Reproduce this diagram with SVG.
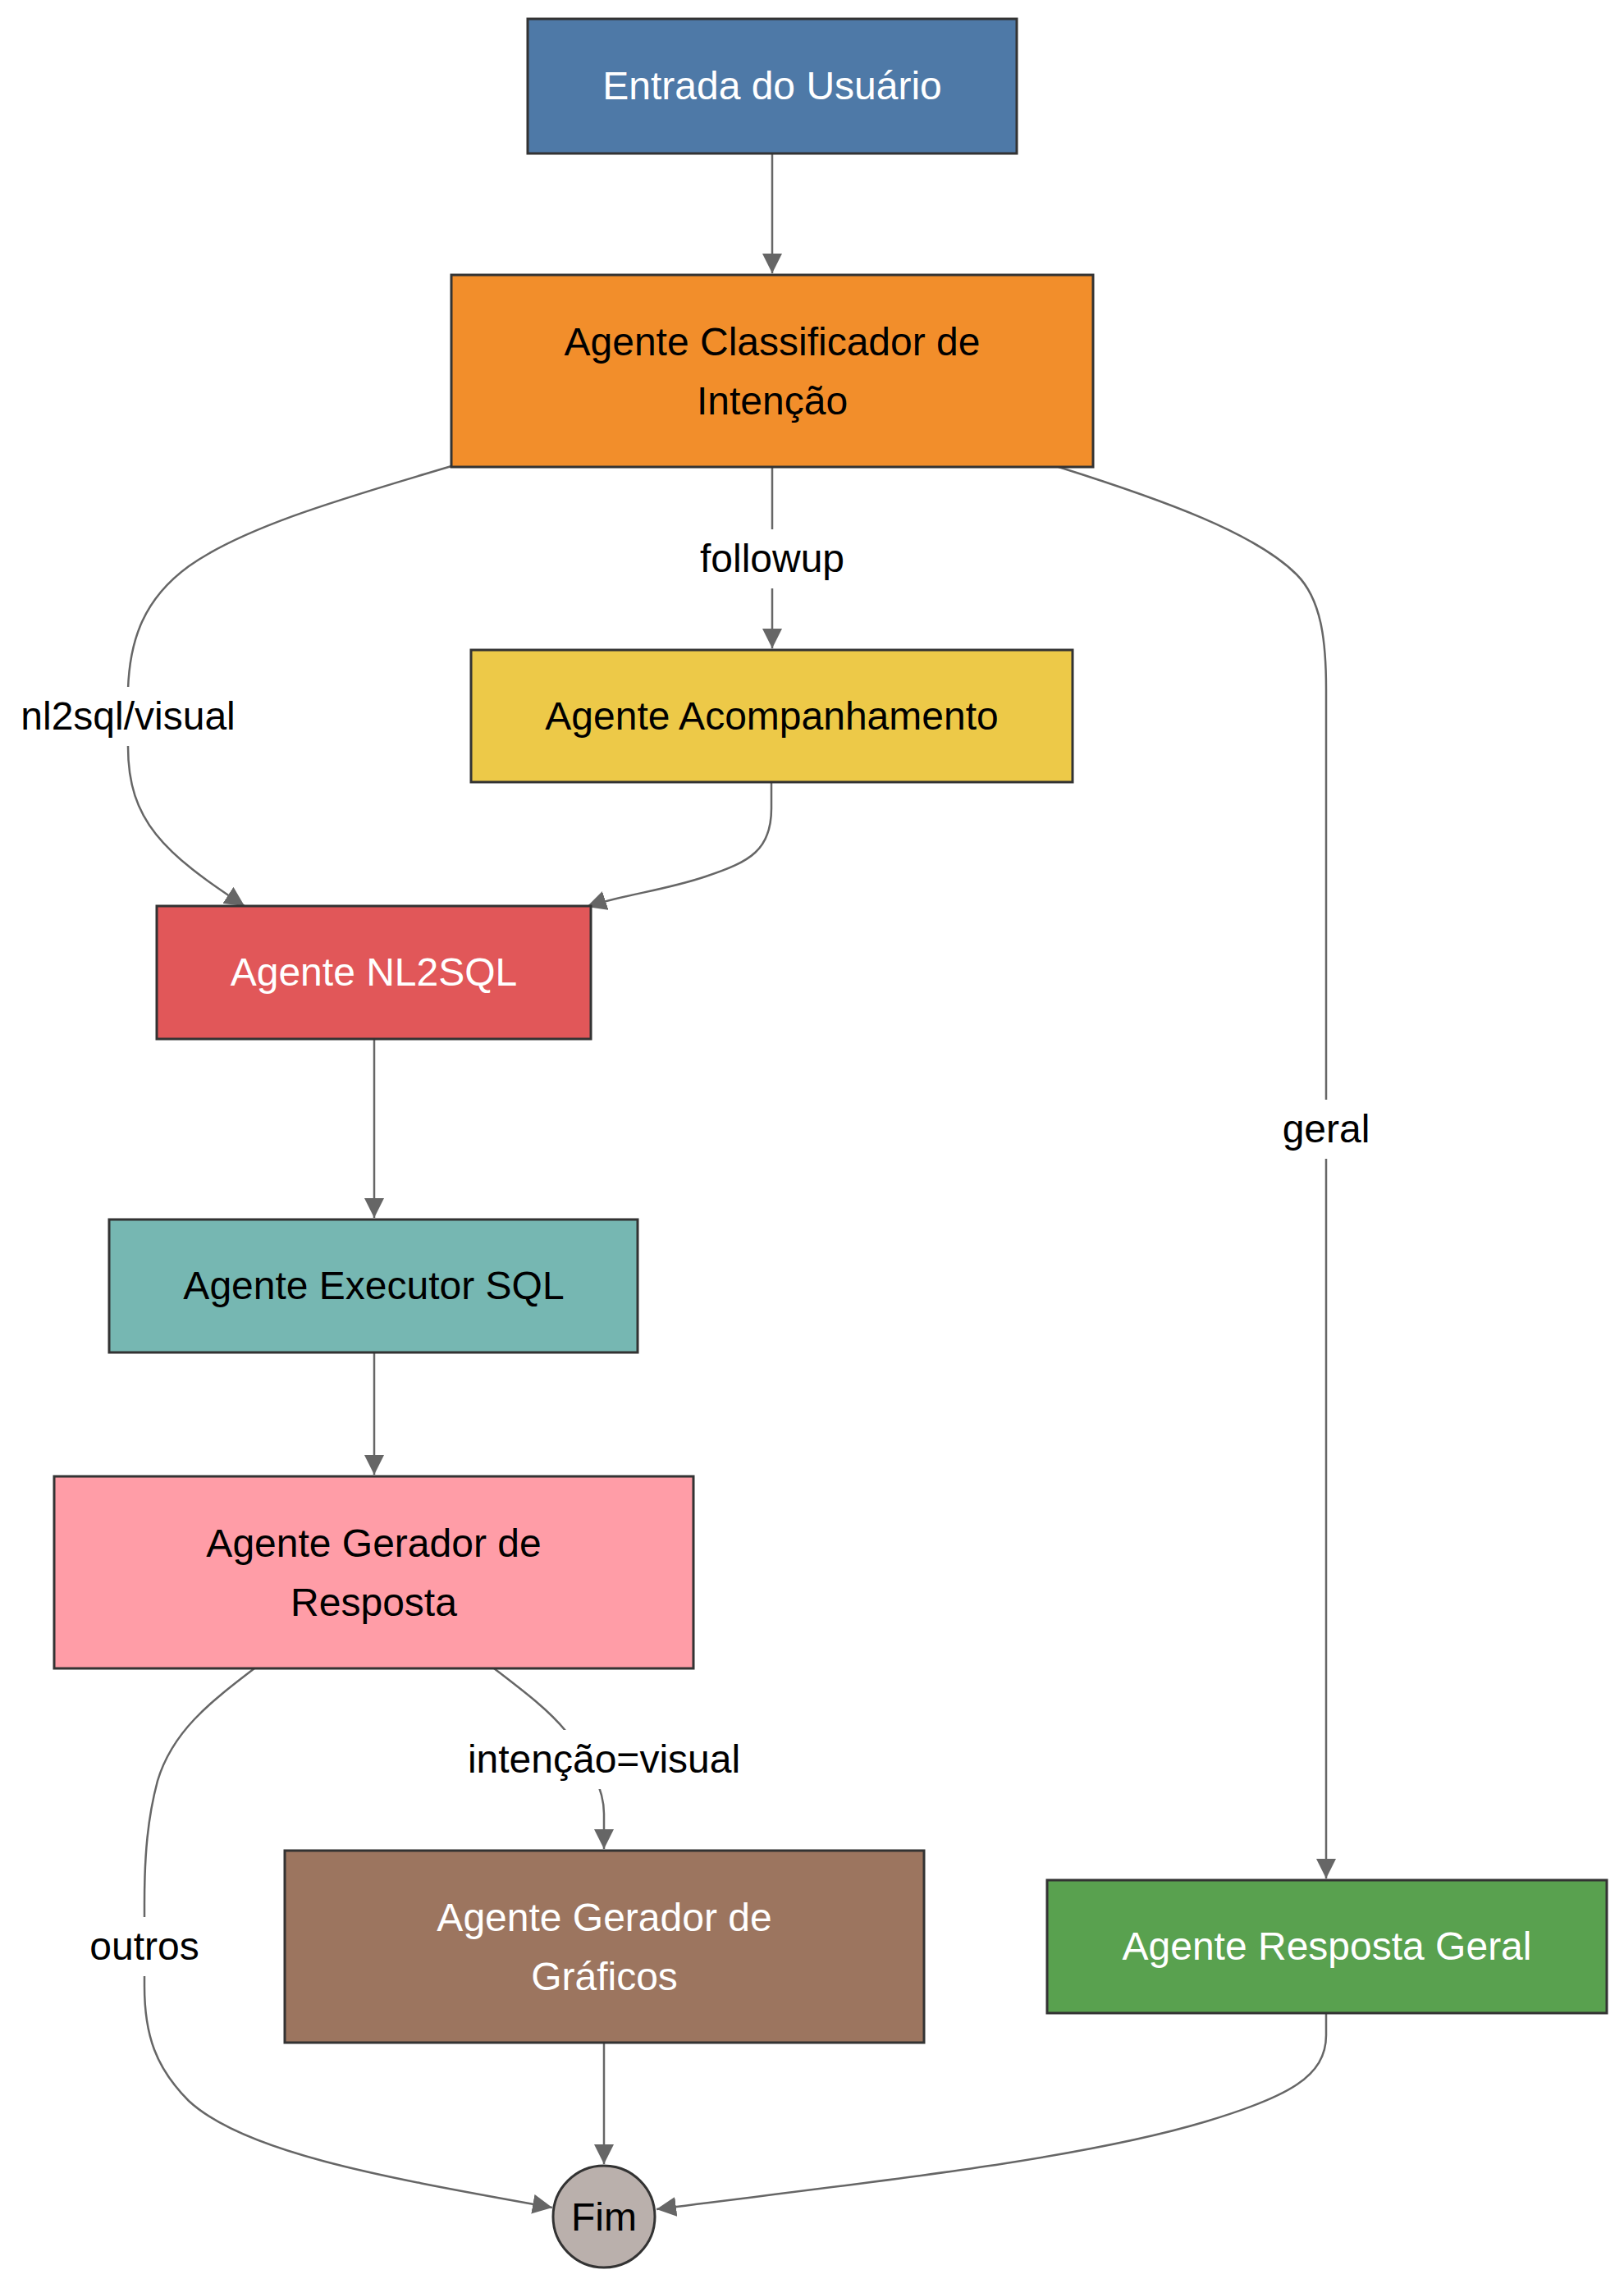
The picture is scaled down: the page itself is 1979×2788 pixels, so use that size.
<svg xmlns="http://www.w3.org/2000/svg" width="1979" height="2788" viewBox="0 0 1979 2788">
  <style>
    .node rect, .node circle { stroke: #333333; stroke-width: 3; }
    .lbl { font-family: "Liberation Sans", Arial, sans-serif; font-size: 48px; text-anchor: middle; }
    .dark { fill: #000000; }
    .light { fill: #ffffff; }
    .edge { fill: none; stroke: #666666; stroke-width: 2.5; marker-end: url(#arrow); }
    .elbl-bg { fill: #ffffff; }
  </style>
  <defs>
    <marker id="arrow" markerUnits="userSpaceOnUse" markerWidth="24" markerHeight="24" refX="24" refY="12" orient="auto" viewBox="0 0 24 24">
      <path d="M0,0 L24,12 L0,24 z" fill="#666666"/>
    </marker>
  </defs>

  <rect width="1979" height="2788" fill="#ffffff"/>

  <!-- connectors -->
  <g id="connectors">
    <path class="edge" d="M941,187 L941,333"/>
    <path class="edge" d="M941,569 L941,790"/>
    <path class="edge" d="M550,568 C430,604 300,640 230,690 C175,730 158,780 156,840 L156,910 C156,1000 200,1040 298,1104"/>
    <path class="edge" d="M940,953 L940,985 C940,1035 915,1050 860,1068 C810,1085 760,1090 715,1105"/>
    <path class="edge" d="M1290,569 C1420,610 1530,650 1580,700 C1610,730 1616,780 1616,840 L1616,2289"/>
    <path class="edge" d="M456,1266 L456,1484"/>
    <path class="edge" d="M456,1648 L456,1797"/>
    <path class="edge" d="M602,2033 C640,2062 670,2085 690,2110 C720,2150 736,2180 736,2210 L736,2253"/>
    <path class="edge" d="M310,2033 C255,2075 210,2110 192,2170 C180,2215 176,2260 176,2320 L176,2420 C176,2480 190,2520 230,2560 C300,2625 480,2655 673,2690"/>
    <path class="edge" d="M736,2489 L736,2637"/>
    <path class="edge" d="M1616,2453 L1616,2480 C1616,2530 1570,2555 1470,2585 C1310,2633 1050,2660 800,2692"/>

    <!-- edge labels -->
    <g id="label-followup">
      <rect class="elbl-bg" x="853" y="645" width="176" height="72"/>
      <text class="lbl dark" x="941" y="697">followup</text>
    </g>
    <g id="label-nl2sql">
      <rect class="elbl-bg" x="24" y="837" width="264" height="72"/>
      <text class="lbl dark" x="156" y="889">nl2sql/visual</text>
    </g>
    <g id="label-geral">
      <rect class="elbl-bg" x="1555" y="1340" width="122" height="72"/>
      <text class="lbl dark" x="1616" y="1392">geral</text>
    </g>
    <g id="label-visual">
      <rect class="elbl-bg" x="566" y="2108" width="340" height="72"/>
      <text class="lbl dark" x="736" y="2160">intenção=visual</text>
    </g>
    <g id="label-outros">
      <rect class="elbl-bg" x="106" y="2336" width="140" height="72"/>
      <text class="lbl dark" x="176" y="2388">outros</text>
    </g>
  </g>

  <!-- nodes -->
  <g id="entrada" class="node">
    <rect x="643" y="23" width="596" height="164" fill="#4e79a7"/>
    <text class="lbl light" x="941" y="121">Entrada do Usuário</text>
  </g>
  <g id="classificador" class="node">
    <rect x="550" y="335" width="782" height="234" fill="#f28e2b"/>
    <text class="lbl dark" x="941" y="433">Agente Classificador de</text>
    <text class="lbl dark" x="941" y="505">Intenção</text>
  </g>
  <g id="acompanhamento" class="node">
    <rect x="574" y="792" width="733" height="161" fill="#edc948"/>
    <text class="lbl dark" x="940.5" y="889">Agente Acompanhamento</text>
  </g>
  <g id="nl2sql" class="node">
    <rect x="191" y="1104" width="529" height="162" fill="#e15759"/>
    <text class="lbl light" x="455.5" y="1201">Agente NL2SQL</text>
  </g>
  <g id="executor" class="node">
    <rect x="133" y="1486" width="644" height="162" fill="#76b7b2"/>
    <text class="lbl dark" x="455.5" y="1583">Agente Executor SQL</text>
  </g>
  <g id="gerador-resposta" class="node">
    <rect x="66" y="1799" width="779" height="234" fill="#ff9da7"/>
    <text class="lbl dark" x="455.5" y="1897">Agente Gerador de</text>
    <text class="lbl dark" x="455.5" y="1969">Resposta</text>
  </g>
  <g id="gerador-graficos" class="node">
    <rect x="347" y="2255" width="779" height="234" fill="#9c755f"/>
    <text class="lbl light" x="736.5" y="2353">Agente Gerador de</text>
    <text class="lbl light" x="736.5" y="2425">Gráficos</text>
  </g>
  <g id="resposta-geral" class="node">
    <rect x="1276" y="2291" width="682" height="162" fill="#59a14f"/>
    <text class="lbl light" x="1617" y="2388">Agente Resposta Geral</text>
  </g>
  <g id="fim" class="node">
    <circle cx="736" cy="2701" r="62" fill="#bab0ac"/>
    <text class="lbl dark" x="736" y="2718">Fim</text>
  </g>
</svg>
